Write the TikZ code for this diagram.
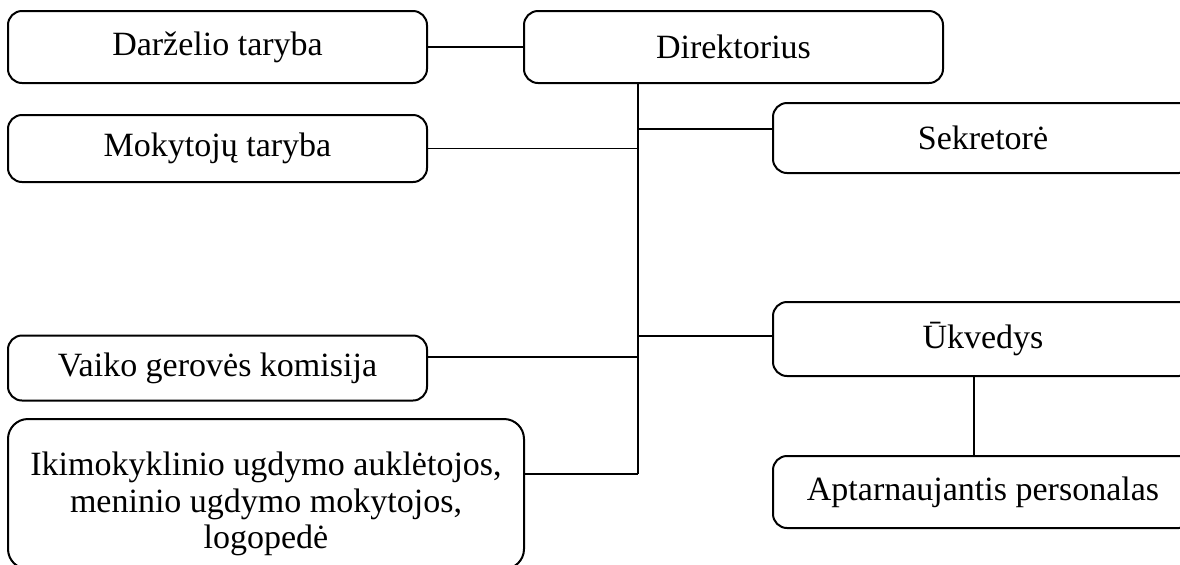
\documentclass[tikz,border=0pt]{standalone}
\usepackage{fontspec}
\setmainfont{Liberation Serif}
\begin{document}
\begin{tikzpicture}[x=0.5pt,y=-0.5pt,
  box/.style={draw, line width=1pt, rounded corners=7pt, inner sep=0pt, outer sep=0pt,
    font=\fontsize{17}{18.5}\selectfont, align=center},
  link/.style={draw, line width=0.85pt}]
\useasboundingbox (0,0) rectangle (1180,564);
\clip (0,0) rectangle (1180,564);
% boxes
\node[box, minimum width=209.5pt, minimum height=36pt] (dar) at (217.5,47) {Darželio taryba};
\node[box, minimum width=209.5pt, minimum height=36pt] (dir) at (733.5,47) {Direktorius};
\node[box, minimum width=209.5pt, minimum height=33.5pt] (mok) at (217.5,148.5) {Mokytojų taryba};
\node[box, minimum width=210pt, minimum height=35pt] (sek) at (983,138) {Sekretorė};
\node[box, minimum width=209.5pt, minimum height=32.5pt] (vai) at (217.5,368) {Vaiko gerovės komisija};
\node[box, minimum width=210pt, minimum height=37pt] (uk) at (983,339) {Ūkvedys};
\node[box, minimum width=210pt, minimum height=36pt] (apt) at (983,492) {Aptarnaujantis personalas};
\node[box, rounded corners=10pt, minimum width=258pt, minimum height=75pt,
  label={[font=\fontsize{17}{18.3}\selectfont, align=center, yshift=-5pt]center:Ikimokyklinio ugdymo auklėtojos,\\meninio ugdymo mokytojos,\\logopedė}] (iki) at (266,494) {};
% junctions on the trunk
\coordinate (top) at (638,83);
\coordinate (jsek) at (638,129);
\coordinate (jmok) at (638,148.5);
\coordinate (juk) at (638,336);
\coordinate (jvai) at (638,357);
\coordinate (jiki) at (638,474);
% connectors
\draw[link] (dar.east) -- (dir.west);
\draw[link] (top) -- (jiki);
\draw[link] (mok.east) -- (jmok);
\draw[link] (jsek) -- (jsek -| sek.west);
\draw[link] (juk) -- (juk -| uk.west);
\draw[link] (vai.east |- jvai) -- (jvai);
\draw[link] (iki.east |- jiki) -- (jiki);
\draw[link] (uk.south -| 974,0) -- (apt.north -| 974,0);
\end{tikzpicture}
\end{document}
